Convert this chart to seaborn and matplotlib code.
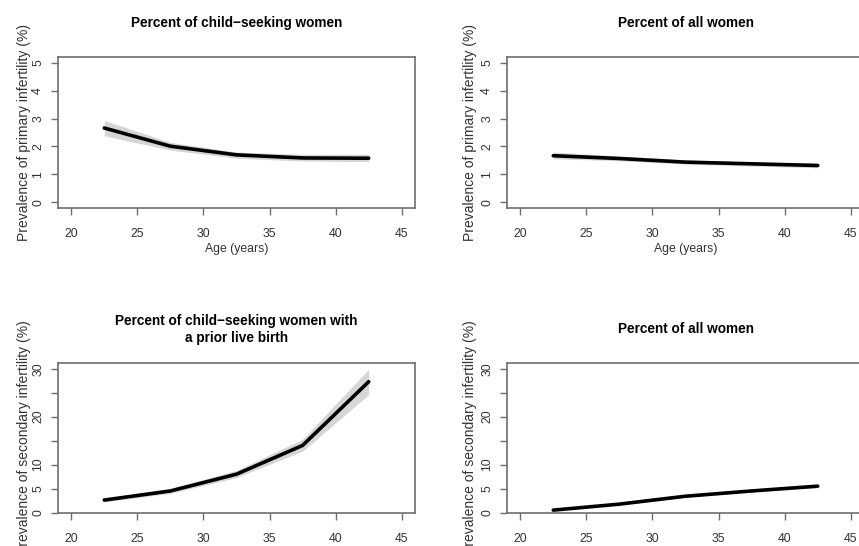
import matplotlib
matplotlib.use("Agg")
import matplotlib.pyplot as plt
import seaborn as sns

# age group midpoints
ages = [22.5, 27.5, 32.5, 37.5, 42.5]

# primary infertility, child-seeking women
prim_seek = [2.66, 2.01, 1.70, 1.59, 1.58]
prim_seek_lo = [2.38, 1.87, 1.58, 1.48, 1.46]
prim_seek_hi = [2.93, 2.15, 1.80, 1.72, 1.72]

# primary infertility, all women
prim_all = [1.67, 1.57, 1.44, 1.38, 1.32]
prim_all_lo = [1.56, 1.49, 1.37, 1.30, 1.24]
prim_all_hi = [1.80, 1.66, 1.52, 1.45, 1.41]

# secondary infertility, child-seeking women with a prior live birth
sec_seek = [2.6, 4.5, 8.0, 14.0, 27.3]
sec_seek_lo = [2.2, 4.0, 7.3, 12.8, 24.6]
sec_seek_hi = [2.9, 5.0, 8.8, 15.3, 29.9]

# secondary infertility, all women
sec_all = [0.5, 1.75, 3.4, 4.5, 5.5]
sec_all_lo = [0.4, 1.6, 3.2, 4.3, 5.2]
sec_all_hi = [0.7, 1.9, 3.6, 4.8, 5.9]

x_ticks = [20, 25, 30, 35, 40, 45]
prim_ticks = [0, 1, 2, 3, 4, 5]
sec_ticks = [0, 5, 10, 15, 20, 25, 30]
sec_tick_labels = ["0", "5", "10", "", "20", "", "30"]

sns.set_style("white")
plt.rcParams["font.family"] = ["Liberation Sans", "DejaVu Sans"]

W, H = 859, 546
fig = plt.figure(figsize=(W / 100, H / 100), dpi=100)

box_col = "#6e6e6e"
txt_col = "#333333"


def make_axes(left, top, bottom):
    # pixel box -> figure fraction
    width = 357
    return fig.add_axes([left / W, 1 - bottom / H, width / W, (bottom - top) / H])


def panel(ax, y, lo, hi, ylim, yticks, yticklabels, ylabel, title, title_y,
          xlabel=None, title_ls=1.2, ylab_x=-0.076):
    ax.fill_between(ages, lo, hi, color="#d6d6d6", lw=0)
    sns.lineplot(x=ages, y=y, ax=ax, color="black", lw=2.6)
    ax.set_xlim(19, 46)
    ax.set_ylim(*ylim)
    ax.set_xticks(x_ticks)
    ax.set_xticklabels([str(t) for t in x_ticks], color=txt_col, fontsize=8.8)
    ax.set_yticks(yticks)
    ax.set_yticklabels(yticklabels, color=txt_col, fontsize=8.8,
                       rotation=90, va="center")
    ax.tick_params(axis="both", direction="out", length=5, width=1,
                   color=box_col, bottom=True, left=True)
    ax.tick_params(axis="x", pad=9.5)
    ax.tick_params(axis="y", pad=5)
    for s in ax.spines.values():
        s.set_color(box_col)
        s.set_linewidth(1.2)
        s.set_visible(True)
    ax.set_ylabel(ylabel, color=txt_col, fontsize=10)
    ax.yaxis.set_label_coords(ylab_x, 0.5)
    if xlabel:
        ax.set_xlabel(xlabel, color=txt_col, fontsize=8.8, labelpad=2)
    else:
        ax.set_xlabel("")
    ax.set_title(title, fontsize=9.8, fontweight="bold", color="black",
                 y=title_y, pad=0, va="center", linespacing=title_ls)


ax1 = make_axes(58, 57, 208)
panel(ax1, prim_seek, prim_seek_lo, prim_seek_hi, (-0.2, 5.2), prim_ticks,
      [str(t) for t in prim_ticks], "Prevalence of primary infertility (%)",
      "Percent of child\u2212seeking women", 1 + (57 - 23) / 151, "Age (years)")

ax2 = make_axes(507, 57, 208)
panel(ax2, prim_all, prim_all_lo, prim_all_hi, (-0.2, 5.2), prim_ticks,
      [str(t) for t in prim_ticks], "Prevalence of primary infertility (%)",
      "Percent of all women", 1 + (57 - 23) / 151, "Age (years)",
      ylab_x=-0.083)

ax3 = make_axes(58, 363, 513)
panel(ax3, sec_seek, sec_seek_lo, sec_seek_hi, (-0.1, 31.2), sec_ticks,
      sec_tick_labels, "Prevalence of secondary infertility (%)",
      "Percent of child\u2212seeking women with\na prior live birth",
      1 + (363 - 329.5) / 150, title_ls=1.35)

ax4 = make_axes(507, 363, 513)
panel(ax4, sec_all, sec_all_lo, sec_all_hi, (-0.1, 31.2), sec_ticks,
      sec_tick_labels, "Prevalence of secondary infertility (%)",
      "Percent of all women", 1 + (363 - 329) / 150, ylab_x=-0.083)

fig.savefig("out.png", dpi=100)
